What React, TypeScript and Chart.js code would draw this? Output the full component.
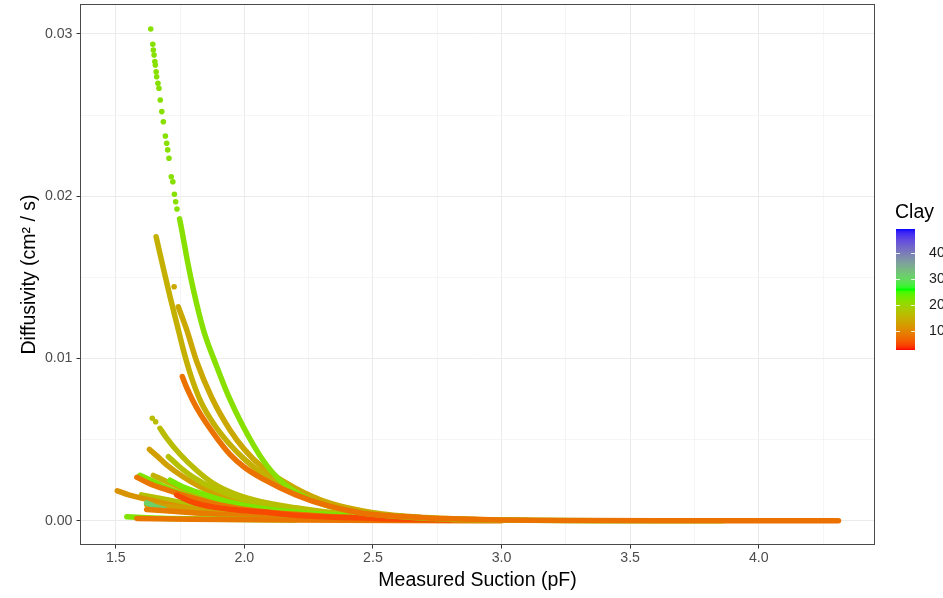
import React, { useEffect, useRef } from 'react';
import { Chart, registerables } from 'chart.js';
Chart.register(...registerables);

const FONT = '"Liberation Sans", Arial, Helvetica, sans-serif';

// ---- axes ----
const X_LIMITS = [1.361, 4.452];
const Y_LIMITS = [-0.00149, 0.03184];
const X_TICK_VALUES = [1.5, 2.0, 2.5, 3.0, 3.5, 4.0];
const X_TICK_LABELS = ['1.5', '2.0', '2.5', '3.0', '3.5', '4.0'];
const X_MINOR_VALUES = [1.75, 2.25, 2.75, 3.25, 3.75, 4.25];
const Y_TICK_VALUES = [0, 0.01, 0.02, 0.03];
const Y_TICK_LABELS = ['0.00', '0.01', '0.02', '0.03'];
const Y_MINOR_VALUES = [0.005, 0.015, 0.025];
const CLAY_LIMITS = [2.7, 49.2];
const CLAY_TICKS = [10, 20, 30, 40];
const CLAY_TICK_LABELS = ['10', '20', '30', '40'];

// ---- curves (Measured Suction pF, Diffusivity cm2/s, Clay %) ----
const c1Clay = 21.5;
const c1DotPF = [1.636, 1.644, 1.646, 1.649, 1.652, 1.654, 1.657, 1.659, 1.664, 1.668, 1.673, 1.679, 1.685, 1.693, 1.698, 1.702, 1.707, 1.716, 1.722, 1.728, 1.733, 1.738];
const c1DotD = [0.0303, 0.02936, 0.02901, 0.0287, 0.02829, 0.02808, 0.02767, 0.02736, 0.02696, 0.02665, 0.02593, 0.02521, 0.02459, 0.02371, 0.02326, 0.02285, 0.02234, 0.0212, 0.02089, 0.02012, 0.01966, 0.01921];
const c1PF = [1.748, 1.753, 1.78, 1.802, 1.841, 1.893, 1.938, 1.996, 2.074, 2.139, 2.243, 2.372, 2.502, 2.644, 2.761, 2.9, 3.1, 3.4, 3.86];
const c1D = [0.0186, 0.01823, 0.0159, 0.01423, 0.01176, 0.00949, 0.0077, 0.0058, 0.0037, 0.0025, 0.0014, 0.00072, 0.0004, 0.00022, 0.00012, 0.00006, 0.00003, 0.00001, 0.0];

const c2Clay = 15;
const c2PF = [1.657, 1.685, 1.711, 1.737, 1.763, 1.789, 1.828, 1.88, 1.944, 2.0, 2.07, 2.2, 2.33, 2.5, 2.7, 2.9, 3.1];
const c2D = [0.0175, 0.01556, 0.01381, 0.01217, 0.01052, 0.00909, 0.00744, 0.006, 0.0047, 0.0038, 0.0029, 0.0017, 0.001, 0.00045, 0.00018, 0.00008, 0.00003];

const c3Clay = 14;
const c3DotPF = [1.727];
const c3DotD = [0.01442];
const c3PF = [1.743, 1.776, 1.815, 1.873, 1.944, 2.0, 2.07, 2.2, 2.33, 2.5, 2.7, 2.9];
const c3D = [0.01319, 0.01176, 0.0098, 0.0076, 0.0056, 0.0044, 0.0033, 0.002, 0.0011, 0.0005, 0.0002, 0.00008];

const c4Clay = 8;
const c4PF = [1.759, 1.776, 1.8, 1.828, 1.893, 1.944, 2.0, 2.07, 2.2, 2.33, 2.46, 2.63, 2.8, 3.0, 3.3, 3.7, 4.31];
const c4D = [0.00888, 0.0082, 0.0074, 0.0066, 0.0051, 0.0041, 0.0033, 0.0026, 0.0016, 0.0009, 0.00047, 0.00025, 0.00012, 0.00005, 0.00002, 0.00001, 0.0];

const c5Clay = 16.5;
const c5DotPF = [1.642, 1.655];
const c5DotD = [0.00632, 0.0061];
const c5PF = [1.672, 1.698, 1.75, 1.815, 1.88, 1.957, 2.06, 2.2, 2.4, 2.6, 2.8];
const c5D = [0.0057, 0.0051, 0.0041, 0.0031, 0.0023, 0.0017, 0.0012, 0.0008, 0.0004, 0.0002, 0.0001];

const c6Clay = 13;
const c6PF = [1.631, 1.66, 1.698, 1.763, 1.828, 1.9, 2.0, 2.15, 2.3, 2.5, 2.7];
const c6D = [0.0044, 0.004, 0.00345, 0.0027, 0.0021, 0.0016, 0.0011, 0.0007, 0.0004, 0.0002, 0.0001];

const c7Clay = 17;
const c7PF = [1.705, 1.75, 1.8, 1.88, 2.0, 2.15, 2.35, 2.6];
const c7D = [0.00395, 0.0033, 0.0027, 0.002, 0.0013, 0.0008, 0.0004, 0.00015];

const c8Clay = 22;
const c8PF = [1.594, 1.65, 1.72, 1.8, 1.9, 2.05, 2.25, 2.5];
const c8D = [0.0028, 0.0024, 0.0019, 0.0015, 0.0011, 0.0007, 0.0004, 0.0002];

const c9Clay = 8.5;
const c9PF = [1.582, 1.63, 1.7, 1.78, 1.9, 2.05, 2.3, 2.6];
const c9D = [0.00268, 0.0023, 0.0019, 0.0015, 0.001, 0.0006, 0.0003, 0.0001];

const c10Clay = 15;
const c10PF = [1.646, 1.7, 1.78, 1.88, 2.0, 2.2, 2.5];
const c10D = [0.0028, 0.0024, 0.0019, 0.0014, 0.001, 0.0005, 0.0002];

const c11Clay = 22.5;
const c11PF = [1.711, 1.76, 1.83, 1.93, 2.1, 2.4];
const c11D = [0.0025, 0.0021, 0.0017, 0.0012, 0.0007, 0.0003];

const c12Clay = 11.5;
const c12PF = [1.506, 1.55, 1.633, 1.75, 1.9, 2.1, 2.4];
const c12D = [0.00185, 0.0016, 0.00128, 0.00087, 0.0005, 0.0003, 0.0001];

const c13Clay = 5;
const c13PF = [1.737, 1.79, 1.84, 1.95, 2.061, 2.2, 2.5, 2.8];
const c13D = [0.00159, 0.0012, 0.00097, 0.0007, 0.00056, 0.00035, 0.00015, 0.00005];

const c14Clay = 31;
const c14PF = [1.62, 1.65, 1.69];
const c14D = [0.0011, 0.0009, 0.0007];

const c15Clay = 22;
const c15PF = [1.543, 1.6, 1.7, 1.9, 2.2];
const c15D = [0.00025, 0.0002, 0.00015, 0.0001, 0.00005];

const c16Clay = 8.5;
const c16PF = [1.582, 1.8, 2.2, 2.6, 3.0];
const c16D = [0.00015, 0.0001, 0.00005, 0.00002, 0.00001];

const c17Clay = 17;
const c17PF = [1.6, 1.7, 1.8, 2.0, 2.3];
const c17D = [0.0016, 0.0013, 0.001, 0.0006, 0.0003];

const c18Clay = 13;
const c18PF = [1.62, 1.75, 1.9, 2.1, 2.4];
const c18D = [0.001, 0.0008, 0.0005, 0.0003, 0.0001];

const c19Clay = 9;
const c19PF = [1.62, 1.8, 2.0, 2.3, 2.7];
const c19D = [0.0007, 0.0005, 0.0003, 0.00015, 0.00005];

// drawing order: first listed = drawn on top
const CURVES = [
  { clay: c4Clay, pf: c4PF, d: c4D },
  { clay: c1Clay, pf: c1PF, d: c1D, dotPF: c1DotPF, dotD: c1DotD },
  { clay: c13Clay, pf: c13PF, d: c13D },
  { clay: c16Clay, pf: c16PF, d: c16D },
  { clay: c15Clay, pf: c15PF, d: c15D },
  { clay: c3Clay, pf: c3PF, d: c3D, dotPF: c3DotPF, dotD: c3DotD },
  { clay: c2Clay, pf: c2PF, d: c2D },
  { clay: c19Clay, pf: c19PF, d: c19D },
  { clay: c14Clay, pf: c14PF, d: c14D },
  { clay: c18Clay, pf: c18PF, d: c18D },
  { clay: c12Clay, pf: c12PF, d: c12D },
  { clay: c9Clay, pf: c9PF, d: c9D },
  { clay: c17Clay, pf: c17PF, d: c17D },
  { clay: c11Clay, pf: c11PF, d: c11D },
  { clay: c10Clay, pf: c10PF, d: c10D },
  { clay: c8Clay, pf: c8PF, d: c8D },
  { clay: c7Clay, pf: c7PF, d: c7D },
  { clay: c6Clay, pf: c6PF, d: c6D },
  { clay: c5Clay, pf: c5PF, d: c5D, dotPF: c5DotPF, dotD: c5DotD },
];

// ---- colour scale: red -> green -> blue, interpolated in CIELAB ----
function toLin(c: number) { c /= 255; return c <= 0.04045 ? c / 12.92 : Math.pow((c + 0.055) / 1.055, 2.4); }
function fromLin(c: number) { const v = c <= 0.0031308 ? 12.92 * c : 1.055 * Math.pow(c, 1 / 2.4) - 0.055; return Math.max(0, Math.min(255, Math.round(v * 255))); }
function rgbToLab(rgb: number[]) {
  const [r, g, b] = rgb.map(toLin);
  const X = (0.4124564 * r + 0.3575761 * g + 0.1804375 * b) / 0.95047;
  const Y = 0.2126729 * r + 0.7151522 * g + 0.072175 * b;
  const Z = (0.0193339 * r + 0.119192 * g + 0.9503041 * b) / 1.08883;
  const f = (t: number) => (t > 0.008856 ? Math.cbrt(t) : 7.787 * t + 16 / 116);
  const fx = f(X), fy = f(Y), fz = f(Z);
  return [116 * fy - 16, 500 * (fx - fy), 200 * (fy - fz)];
}
function labToRgb(lab: number[]) {
  const [L, a, bb] = lab;
  const fy = (L + 16) / 116, fx = fy + a / 500, fz = fy - bb / 200;
  const inv = (t: number) => (t * t * t > 0.008856 ? t * t * t : (t - 16 / 116) / 7.787);
  const X = inv(fx) * 0.95047, Y = inv(fy), Z = inv(fz) * 1.08883;
  const r = 3.2404542 * X - 1.5371385 * Y - 0.4985314 * Z;
  const g = -0.969266 * X + 1.8760108 * Y + 0.041556 * Z;
  const b = 0.0556434 * X - 0.2040259 * Y + 1.0572252 * Z;
  return [fromLin(r), fromLin(g), fromLin(b)];
}
const PAL = [[255, 0, 0], [0, 255, 0], [0, 0, 255]].map(rgbToLab);
function clayColor(v: number) {
  let t = (v - CLAY_LIMITS[0]) / (CLAY_LIMITS[1] - CLAY_LIMITS[0]);
  t = Math.max(0, Math.min(1, t));
  const seg = Math.min(PAL.length - 2, Math.floor(t * (PAL.length - 1)));
  const s = t * (PAL.length - 1) - seg;
  const A = PAL[seg], B = PAL[seg + 1];
  const rgb = labToRgb([0, 1, 2].map((i) => A[i] + (B[i] - A[i]) * s));
  return `rgb(${rgb[0]},${rgb[1]},${rgb[2]})`;
}

const near = (arr: number[], v: number) => arr.some((m) => Math.abs(m - v) < 1e-9);

const decorPlugin = {
  id: 'decor',
  afterDraw(chart: any) {
    const { ctx, chartArea } = chart;
    const { left, top, right, bottom } = chartArea;
    ctx.save();
    // panel border
    ctx.strokeStyle = '#4a4a4a';
    ctx.lineWidth = 1;
    ctx.strokeRect(left + 0.5, top + 0.5, right - left - 1, bottom - top - 1);

    // colourbar legend
    const barL = 896, barR = 915, barT = 229, barB = 350;
    ctx.fillStyle = '#000';
    ctx.font = `19.5px ${FONT}`;
    ctx.textAlign = 'left';
    ctx.textBaseline = 'alphabetic';
    ctx.fillText('Clay', 895, 218);
    const grad = ctx.createLinearGradient(0, barB, 0, barT);
    for (let i = 0; i <= 60; i++) {
      const t = i / 60;
      grad.addColorStop(t, clayColor(CLAY_LIMITS[0] + t * (CLAY_LIMITS[1] - CLAY_LIMITS[0])));
    }
    ctx.fillStyle = grad;
    ctx.fillRect(barL, barT, barR - barL, barB - barT);
    ctx.font = `14.2px ${FONT}`;
    ctx.textBaseline = 'middle';
    CLAY_TICKS.forEach((v, i) => {
      const y = barB - ((v - CLAY_LIMITS[0]) / (CLAY_LIMITS[1] - CLAY_LIMITS[0])) * (barB - barT);
      ctx.strokeStyle = 'rgba(255,255,255,0.85)';
      ctx.lineWidth = 1;
      ctx.beginPath();
      ctx.moveTo(barL, Math.round(y) + 0.5); ctx.lineTo(barL + 4, Math.round(y) + 0.5);
      ctx.moveTo(barR - 4, Math.round(y) + 0.5); ctx.lineTo(barR, Math.round(y) + 0.5);
      ctx.stroke();
      ctx.fillStyle = '#1a1a1a';
      ctx.fillText(CLAY_TICK_LABELS[i], 929, y + 0.5);
    });
    ctx.restore();
  },
};

export default function App() {
  const ref = useRef<HTMLCanvasElement>(null);
  useEffect(() => {
    if (!ref.current) return;
    const datasets: any[] = [];
    CURVES.forEach((c) => {
      const col = clayColor(c.clay);
      datasets.push({
        data: c.pf.map((x, i) => ({ x, y: c.d[i] })),
        showLine: true,
        borderColor: col,
        backgroundColor: col,
        borderWidth: 5.5,
        borderCapStyle: 'round',
        borderJoinStyle: 'round',
        cubicInterpolationMode: 'monotone',
        pointRadius: 0,
        pointHoverRadius: 0,
      });
      if (c.dotPF) {
        datasets.push({
          data: c.dotPF.map((x, i) => ({ x, y: c.dotD![i] })),
          showLine: false,
          pointRadius: 2.8,
          pointBorderWidth: 0,
          pointBackgroundColor: col,
          borderColor: col,
          backgroundColor: col,
        });
      }
    });
    const gridColor = (majors: number[]) => (ctx: any) =>
      ctx.tick && near(majors, ctx.tick.value) ? '#EBEBEB' : '#F3F3F3';
    const tickColor = (majors: number[]) => (ctx: any) =>
      ctx.tick && near(majors, ctx.tick.value) ? '#333333' : 'rgba(0,0,0,0)';
    const chart = new Chart(ref.current, {
      type: 'scatter',
      data: { datasets },
      plugins: [decorPlugin],
      options: {
        responsive: false,
        animation: false,
        events: [],
        layout: { padding: { left: 0, right: 68, top: 4, bottom: 0 } },
        plugins: { legend: { display: false }, tooltip: { enabled: false } },
        scales: {
          x: {
            type: 'linear',
            min: X_LIMITS[0],
            max: X_LIMITS[1],
            afterBuildTicks: (s: any) => {
              s.ticks = [...X_TICK_VALUES, ...X_MINOR_VALUES].sort((a, b) => a - b).map((v) => ({ value: v }));
            },
            afterFit: (s: any) => { s.height = 53; s.paddingLeft = 0; s.paddingRight = 0; },
            ticks: {
              autoSkip: false, maxRotation: 0, padding: 1, color: '#4D4D4D',
              font: { family: FONT, size: 14.2 },
              callback: (v: any) => {
                const i = X_TICK_VALUES.findIndex((m) => Math.abs(m - v) < 1e-9);
                return i >= 0 ? X_TICK_LABELS[i] : '';
              },
            },
            grid: {
              color: gridColor(X_TICK_VALUES),
              lineWidth: (ctx: any) => (ctx.tick && near(X_TICK_VALUES, ctx.tick.value) ? 1 : 0.8),
              tickLength: 3.5, tickColor: tickColor(X_TICK_VALUES), tickWidth: 1,
            },
            border: { display: false },
            title: {
              display: true, text: 'Measured Suction (pF)', color: '#000',
              font: { family: FONT, size: 19.5 }, padding: { top: 0, bottom: 6 },
            },
          },
          y: {
            type: 'linear',
            min: Y_LIMITS[0],
            max: Y_LIMITS[1],
            afterBuildTicks: (s: any) => {
              s.ticks = [...Y_TICK_VALUES, ...Y_MINOR_VALUES].sort((a, b) => a - b).map((v) => ({ value: v }));
            },
            afterFit: (s: any) => { s.width = 80; s.paddingTop = 0; s.paddingBottom = 0; },
            ticks: {
              autoSkip: false, padding: 4, color: '#4D4D4D',
              font: { family: FONT, size: 14.2 },
              callback: (v: any) => {
                const i = Y_TICK_VALUES.findIndex((m) => Math.abs(m - v) < 1e-12);
                return i >= 0 ? Y_TICK_LABELS[i] : '';
              },
            },
            grid: {
              color: gridColor(Y_TICK_VALUES),
              lineWidth: (ctx: any) => (ctx.tick && near(Y_TICK_VALUES, ctx.tick.value) ? 1 : 0.8),
              tickLength: 3.5, tickColor: tickColor(Y_TICK_VALUES), tickWidth: 1,
            },
            border: { display: false },
            title: {
              display: true, text: 'Diffusivity (cm² / s)', color: '#000',
              font: { family: FONT, size: 19.5 }, padding: { top: 17.5, bottom: 0 },
            },
          },
        },
      } as any,
    });
    return () => chart.destroy();
  }, []);
  return (
    <div style={{ position: 'fixed', left: 0, top: 0, width: 943, height: 598, background: '#fff' }}>
      <canvas ref={ref} width={943} height={598} />
    </div>
  );
}
